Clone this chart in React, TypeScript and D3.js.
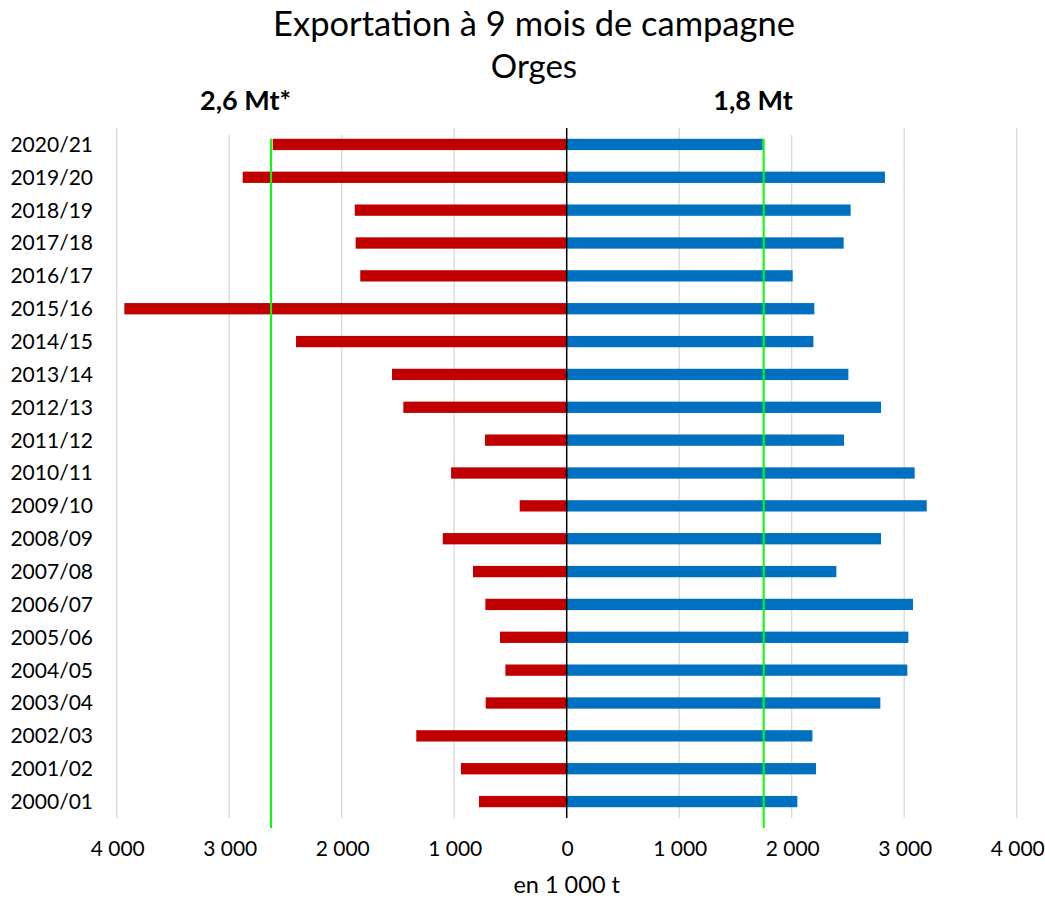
import React from "react";
import * as d3 from "d3";

const categories = [
  "2020/21", "2019/20", "2018/19", "2017/18", "2016/17", "2015/16", "2014/15",
  "2013/14", "2012/13", "2011/12", "2010/11", "2009/10", "2008/09", "2007/08",
  "2006/07", "2005/06", "2004/05", "2003/04", "2002/03", "2001/02", "2000/01",
];

// left side (red) values, in 1 000 t
const leftValues = [
  2613, 2880, 1884, 1876, 1835, 3932, 2406, 1553, 1452, 726, 1028,
  418, 1102, 833, 723, 593, 545, 720, 1337, 940, 780,
];

// right side (blue) values, in 1 000 t
const rightValues = [
  1742, 2829, 2524, 2462, 2009, 2201, 2193, 2504, 2794, 2465, 3093,
  3200, 2794, 2397, 3078, 3037, 3028, 2788, 2184, 2216, 2050,
];

const refLeft = 2628;
const refRight = 1751;
const refLeftLabel = "2,6 Mt*";
const refRightLabel = "1,8 Mt";

const tickValues = [-4000, -3000, -2000, -1000, 0, 1000, 2000, 3000, 4000];
const titleLines = ["Exportation à 9 mois de campagne", "Orges"];
const axisTitle = "en 1 000 t";

const W = 1045;
const H = 898;
const FONT = "Lato, 'Open Sans', sans-serif";

const fmt = (v: number) => {
  const a = Math.abs(v);
  if (a >= 1000) {
    const th = Math.floor(a / 1000);
    const rest = String(a % 1000).padStart(3, "0");
    return `${th} ${rest}`;
  }
  return String(a);
};

export default function App() {
  const x = d3.scaleLinear().domain([-4000, 4000]).range([116.7, 1016.7]);
  const y = d3
    .scaleBand<string>()
    .domain(categories)
    .range([128, 818])
    .paddingInner(0.656)
    .paddingOuter(0.328);
  const bw = y.bandwidth();
  const [top, bottom] = y.range();
  const greenTop = y(categories[0])!;
  const greenBottom = bottom + 10;

  return (
    <svg
      width={W}
      height={H}
      style={{ position: "absolute", left: 0, top: 0, background: "#fff" }}
      fontFamily={FONT}
    >
      <rect x={0} y={0} width={W} height={H} fill="#fff" />
      {/* gridlines */}
      {tickValues
        .filter((t) => t !== 0)
        .map((t) => (
          <line
            key={"g" + t}
            x1={x(t)}
            x2={x(t)}
            y1={top}
            y2={bottom}
            stroke="#D9D9D9"
            strokeWidth={1.3}
          />
        ))}
      {/* label backgrounds */}
      <rect x={190} y={85} width={210} height={50} fill="#fff" />
      <rect x={700} y={85} width={180} height={50} fill="#fff" />

      {/* bars */}
      {categories.map((c, i) => (
        <rect
          key={"l" + c}
          x={x(-leftValues[i])}
          y={y(c)!}
          width={x(0) - x(-leftValues[i])}
          height={bw}
          fill="#C00000"
        />
      ))}
      {categories.map((c, i) => (
        <rect
          key={"r" + c}
          x={x(0)}
          y={y(c)!}
          width={x(rightValues[i]) - x(0)}
          height={bw}
          fill="#0070C0"
        />
      ))}

      {/* zero axis */}
      <line x1={x(0)} x2={x(0)} y1={top} y2={bottom} stroke="#000" strokeWidth={1.5} />

      {/* reference lines */}
      <line x1={x(-refLeft)} x2={x(-refLeft)} y1={greenTop} y2={greenBottom} stroke="#00FF00" strokeWidth={2} />
      <line x1={x(refRight)} x2={x(refRight)} y1={greenTop} y2={greenBottom} stroke="#00FF00" strokeWidth={2} />

      {/* category labels */}
      {categories.map((c) => (
        <text
          key={"t" + c}
          x={93}
          y={y(c)! + bw / 2 + 7.4}
          textAnchor="end"
          fontSize={21}
          fill="#000"
        >
          {c}
        </text>
      ))}

      {/* tick labels */}
      {tickValues.map((t) => (
        <text key={"tk" + t} x={x(t) + 1} y={856} textAnchor="middle" fontSize={21} fill="#000">
          {fmt(t)}
        </text>
      ))}
      <text x={x(0)} y={893} textAnchor="middle" fontSize={23.5} fill="#000">
        {axisTitle}
      </text>

      {/* titles */}
      <text x={534} y={36} textAnchor="middle" fontSize={34.5} fill="#000">
        {titleLines[0]}
      </text>
      <text x={534} y={78} textAnchor="middle" fontSize={33} fill="#000">
        {titleLines[1]}
      </text>
      <text x={245.5} y={110} textAnchor="middle" fontSize={27} fontWeight="bold" fill="#000">
        {refLeftLabel}
      </text>
      <text x={753} y={110} textAnchor="middle" fontSize={27} fontWeight="bold" fill="#000">
        {refRightLabel}
      </text>
    </svg>
  );
}
